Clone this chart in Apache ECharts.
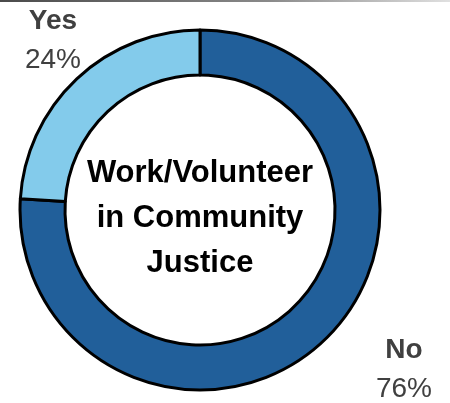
<!DOCTYPE html>
<html>
<head>
<meta charset="utf-8">
<script src="https://cdn.jsdelivr.net/npm/echarts@6/dist/echarts.min.js"></script>
<style>
  html, body { margin: 0; padding: 0; background: #fff; }
  #chart { width: 450px; height: 403px; }
</style>
</head>
<body>
<div id="chart"></div>
<script>
// Survey answers and their shares (percent)
const categories = ['No', 'Yes'];
const shares = [76, 24];
const sliceColors = ['#215F9A', '#83CBEB'];
const centerLines = ['Work/Volunteer', 'in Community', 'Justice'];

// Where each answer's label block sits
const labelSpots = {
  No: { x: 404, y: 370 },
  Yes: { x: 53, y: 41 }
};

const chart = echarts.init(document.getElementById('chart'), null, { renderer: 'canvas' });

const data = categories.map((name, i) => ({
  name: name,
  value: shares[i],
  itemStyle: { color: sliceColors[i] }
}));

chart.setOption({
  animation: false,
  backgroundColor: '#ffffff',
  graphic: [
    {
      type: 'rect',
      shape: { x: 0, y: 0, width: 450, height: 2 },
      style: {
        fill: {
          type: 'linear', x: 0, y: 0, x2: 1, y2: 0,
          colorStops: [
            { offset: 0, color: '#4a4a4a' },
            { offset: 0.6, color: '#8a8a8a' },
            { offset: 1, color: '#e0e0e0' }
          ]
        }
      },
      silent: true
    },
    {
      type: 'text',
      x: 200,
      y: 218,
      style: {
        text: centerLines.join('\n'),
        fontFamily: 'Liberation Sans, Arial, sans-serif',
        fontWeight: 'bold',
        fontSize: 31,
        lineHeight: 45,
        fill: '#000000',
        align: 'center',
        verticalAlign: 'middle'
      },
      z: 10
    }
  ],
  series: [
    {
      type: 'pie',
      center: [200, 210],
      radius: [135, 180],
      startAngle: 90,
      clockwise: true,
      data: data,
      itemStyle: { borderColor: '#000000', borderWidth: 3 },
      label: {
        show: true,
        position: 'outside',
        overflow: 'none',
        width: 120,
        formatter: '{n|{b}}\n{p|{d}%}',
        rich: {
          n: {
            fontFamily: 'Liberation Sans, Arial, sans-serif',
            fontWeight: 'bold',
            fontSize: 28,
            lineHeight: 39,
            color: '#404040',
            align: 'center'
          },
          p: {
            fontFamily: 'Liberation Sans, Arial, sans-serif',
            fontSize: 28,
            lineHeight: 39,
            color: '#404040',
            align: 'center'
          }
        }
      },
      labelLine: { show: false },
      labelLayout: function (params) {
        const spot = labelSpots[categories[params.dataIndex]];
        return { x: spot.x, y: spot.y, align: 'center', verticalAlign: 'middle' };
      },
      emphasis: { disabled: true }
    }
  ]
});
</script>
</body>
</html>
